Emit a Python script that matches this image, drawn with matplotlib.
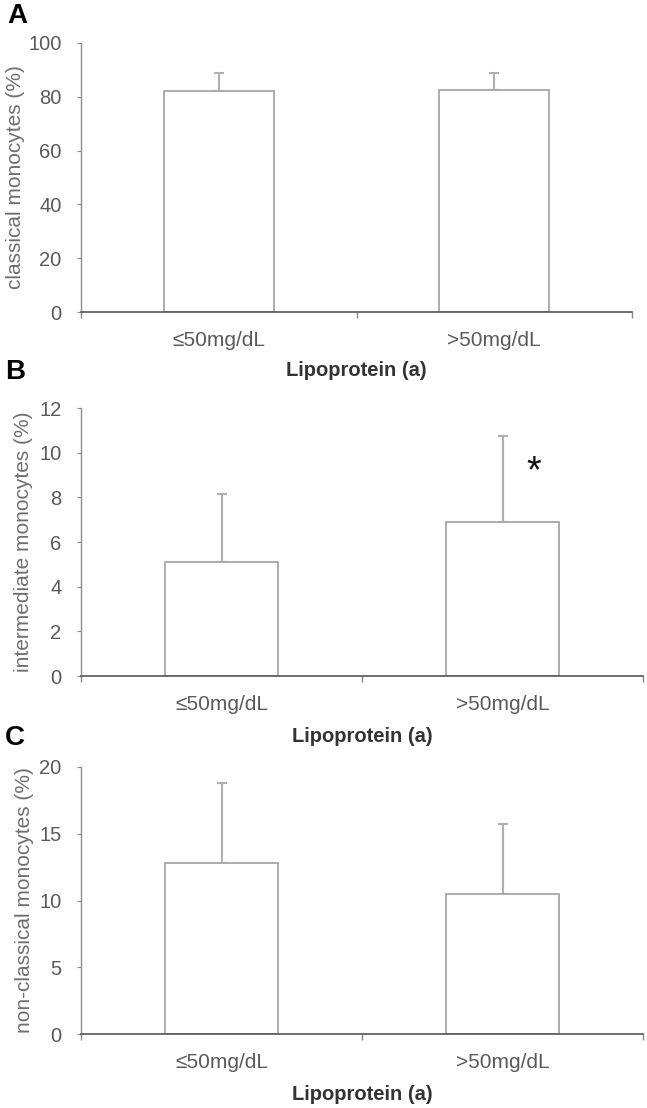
import matplotlib
matplotlib.use("Agg")
import matplotlib.pyplot as plt
from matplotlib.transforms import offset_copy

plt.rcParams["font.family"] = ["Liberation Sans", "DejaVu Sans"]

groups = ["≤50mg/dL", ">50mg/dL"]
xlabel = "Lipoprotein (a)"

classical_mean = [82.0, 82.5]
classical_sd = [6.7, 6.2]
intermediate_mean = [5.1, 6.9]
intermediate_sd = [3.05, 3.85]
nonclassical_mean = [12.8, 10.45]
nonclassical_sd = [6.0, 5.3]

panels = [
    ("A", "classical monocytes (%)", classical_mean, classical_sd, 100, 20),
    ("B", "intermediate monocytes (%)", intermediate_mean, intermediate_sd, 12, 2),
    ("C", "non-classical monocytes (%)", nonclassical_mean, nonclassical_sd, 20, 5),
]

W, H = 647, 1108
fig = plt.figure(figsize=(W / 100, H / 100), dpi=100)

# axes boxes in pixels: left, right, top, bottom
boxes = [(81, 632, 43, 312), (81, 643, 408, 676), (81, 643, 767, 1034)]
ylabel_x = [25, 33, 34]  # right edge of the rotated label
letter_pos = [(17, 16), (15, 372), (15, 738)]
xlabel_off = [58, 61, 61]

edge = "#a6a6a6"
for i, (letter, ylab, means, sds, ymax, step) in enumerate(panels):
    l, r, t, b = boxes[i]
    ax = fig.add_axes([l / W, 1 - b / H, (r - l) / W, (b - t) / H])
    x = list(range(len(groups)))
    ax.bar(x, means, width=0.4, color="white", edgecolor=edge, linewidth=1.3, zorder=2)
    ax.errorbar(x, means, yerr=[[0] * len(sds), sds], fmt="none", ecolor="#b0b0b0",
                elinewidth=1.5, capsize=3.5, capthick=1.5, zorder=1)
    ax.set_xlim(-0.5, 1.5)
    ax.set_ylim(0, ymax)
    ax.set_yticks(range(0, ymax + 1, step))
    ax.set_xticks([-0.5, 0.5, 1.5])
    ax.set_xticklabels([])
    ax.set_xticks(x, minor=True)
    ax.set_xticklabels(groups, minor=True)
    ax.tick_params(axis="x", which="minor", length=0, pad=14, labelsize=15, labelcolor="#5a5a5a")
    ax.tick_params(axis="x", which="major", length=4, color="#888888", width=1)
    ax.tick_params(axis="y", length=3, pad=11, labelsize=14.5, labelcolor="#5a5a5a", color="#888888")
    for s in ["top", "right"]:
        ax.spines[s].set_visible(False)
    ax.spines["left"].set_color("#8c8c8c")
    ax.spines["bottom"].set_color("#555555")
    ax.spines["left"].set_linewidth(1.0)
    ax.spines["bottom"].set_linewidth(1.2)
    ax.spines["bottom"].set_zorder(3)
    ax.set_ylabel(ylab, fontsize=15, color="#6e6e6e")
    ax.yaxis.set_label_coords((ylabel_x[i] - l) / (r - l), 0.5)
    tr = offset_copy(ax.transAxes, fig=fig, x=0, y=-xlabel_off[i] * 0.72, units="points")
    ax.text(0.5, 0, xlabel, transform=tr, ha="center", va="center",
            fontsize=14.5, fontweight="bold", color="#333333")
    fig.text(letter_pos[i][0] / W, 1 - letter_pos[i][1] / H, letter, fontsize=20,
             fontweight="bold", ha="center", va="center")
    if letter == "B":
        ax.text(1.11, 9.1, "*", fontsize=27, ha="center", va="center", color="#111111")

fig.savefig("out.png", dpi=100)
